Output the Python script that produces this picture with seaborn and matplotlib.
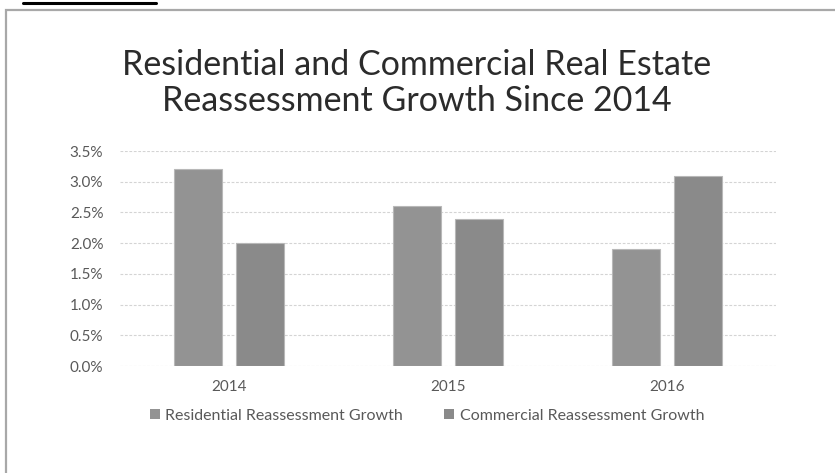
import matplotlib
matplotlib.use("Agg")
import matplotlib.pyplot as plt
from matplotlib.patches import Rectangle
from matplotlib.lines import Line2D
from matplotlib.ticker import FuncFormatter, MultipleLocator
import seaborn as sns
import pandas as pd

# Reassessment growth, percent
years = ["2014", "2015", "2016"]
residential = [3.2, 2.6, 1.9]
commercial = [2.0, 2.4, 3.1]
series_names = ["Residential Reassessment Growth", "Commercial Reassessment Growth"]
title = "Residential and Commercial Real Estate\nReassessment Growth Since 2014"

df = pd.DataFrame({
    "Year": years * 2,
    "Growth": residential + commercial,
    "Series": [series_names[0]] * len(years) + [series_names[1]] * len(years),
})

sns.set_theme(style="white")
plt.rcParams["font.family"] = ["Lato", "DejaVu Sans"]

W, H = 835, 473
fig = plt.figure(figsize=(W / 100, H / 100), dpi=100)
fig.patch.set_facecolor("white")

# outer chart frame and the short rule above it
fig.add_artist(Rectangle((6 / W, -0.05), 1.05, (H - 10) / H + 0.05,
                         transform=fig.transFigure, fill=False,
                         edgecolor="#a8a8a8", linewidth=1.6))
fig.add_artist(Line2D([23 / W, 156 / W], [1 - 3 / H, 1 - 3 / H],
                      transform=fig.transFigure, color="black", linewidth=2.2))

ax = fig.add_axes([120 / W, 107 / H, 656 / W, 215 / H])
colors = ["#939393", "#8a8a8a"]
sns.barplot(data=df, x="Year", y="Growth", hue="Series", palette=colors,
            width=0.566, gap=0.226, ax=ax, legend=False,
            edgecolor="#b8b8b8", linewidth=0.8)

ax.set_xlim(-0.5, 2.5)
ax.set_ylim(0, 3.5)
ax.yaxis.set_major_locator(MultipleLocator(0.5))
ax.yaxis.set_major_formatter(FuncFormatter(lambda v, p: f"{v:.1f}%"))
ax.grid(axis="y", color="#d4d4d4", linestyle=(0, (2.5, 1.5)), linewidth=0.8)
ax.set_axisbelow(True)
for s in ax.spines.values():
    s.set_visible(False)
ax.set_xlabel("")
ax.set_ylabel("")
ax.tick_params(axis="y", length=0, pad=12, labelsize=11, labelcolor="#595959")
ax.tick_params(axis="x", length=0, pad=10, labelsize=11, labelcolor="#595959")

fig.text(417 / W, 1 - 83 / H, title, ha="center", va="center",
         fontsize=24.5, color="#2b2b2b", linespacing=1.12)

handles = [Rectangle((0, 0), 1, 1, facecolor=c, edgecolor="none") for c in colors]
fig.legend(handles, series_names, loc="center", bbox_to_anchor=(427 / W, 1 - 416 / H),
           ncol=2, frameon=False, fontsize=11.5, labelcolor="#595959",
           handlelength=0.6, handleheight=0.6, handletextpad=0.35, columnspacing=2.6)

fig.savefig("out.png", dpi=100, facecolor="white")
